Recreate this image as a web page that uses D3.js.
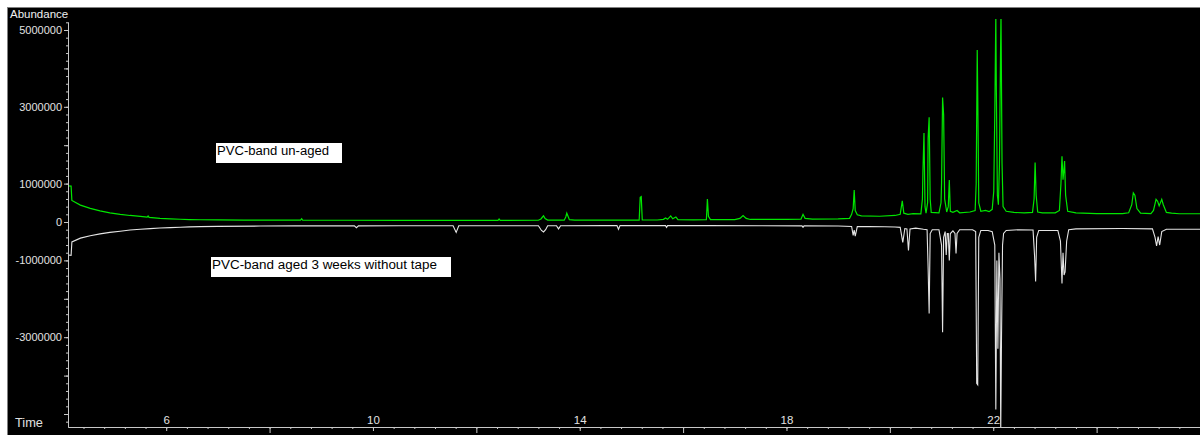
<!DOCTYPE html>
<html><head><meta charset="utf-8">
<script src="https://cdn.jsdelivr.net/npm/d3@7"></script>
<style>html,body{margin:0;padding:0;background:#000;overflow:hidden}</style>
</head><body><svg id="c" width="1200" height="435"></svg>
<script>
// ---- data (time in min, abundance) ----
const unagedTrace = [
[4.10,940000],[4.16,935000],[4.175,560000],[4.34,440000],[4.53,355000],[4.72,290000],[4.91,240000],[5.11,200000],[5.30,170000],[5.50,145000],
[5.63,125000],[5.65,155000],[5.67,120000],[5.88,95000],[6.08,82000],[6.27,72000],[6.45,64000],[6.66,58000],[7.0,54000],[7.5,50000],[8.0,48000],
[8.60,47000],[8.62,85000],[8.64,47000],[9.5,45000],[10.5,44000],[11.5,43000],[12.42,43000],[12.44,80000],[12.46,43000],[13.20,45000],[13.25,80000],
[13.28,130000],[13.30,160000],[13.33,90000],[13.38,50000],[13.70,48000],[13.73,130000],[13.75,230000],[13.77,165000],[13.80,60000],[13.9,48000],
[14.2,48000],[14.6,48000],[15.15,48000],[15.17,640000],[15.19,660000],[15.21,52000],[15.5,52000],[15.62,70000],[15.66,105000],[15.70,70000],
[15.76,160000],[15.80,85000],[15.86,130000],[15.90,60000],[16.2,55000],[16.45,58000],[16.47,600000],[16.49,150000],[16.53,62000],[17.0,62000],
[17.10,95000],[17.16,170000],[17.22,95000],[17.3,66000],[18.0,66000],[18.28,75000],[18.32,200000],[18.36,95000],[18.5,75000],[19.0,80000],
[19.22,95000],[19.26,200000],[19.29,350000],[19.31,830000],[19.33,300000],[19.37,190000],[19.45,160000],[19.8,150000],[20.1,170000],[20.2,200000],
[20.24,550000],[20.27,230000],[20.35,200000],[20.45,220000],[20.60,210000],[20.63,600000],[20.64,1320000],[20.66,2320000],[20.68,400000],[20.70,230000],
[20.73,500000],[20.74,2180000],[20.76,2730000],[20.78,600000],[20.80,250000],[20.95,240000],[20.99,500000],[21.00,1000000],[21.02,3240000],
[21.04,2790000],[21.06,600000],[21.10,260000],[21.13,400000],[21.15,1090000],[21.17,280000],[21.22,250000],[21.30,300000],[21.35,240000],
[21.55,260000],[21.65,300000],[21.67,1000000],[21.69,4480000],[21.70,3340000],[21.72,500000],[21.76,280000],[21.85,300000],[21.92,270000],
[21.98,330000],[22.01,800000],[22.03,2820000],[22.05,5400000],[22.06,3440000],[22.08,700000],[22.10,450000],[22.12,1500000],[22.14,4280000],
[22.15,5400000],[22.17,1530000],[22.19,400000],[22.25,280000],[22.4,250000],[22.6,240000],[22.76,250000],[22.79,600000],[22.81,1550000],
[22.83,700000],[22.86,260000],[22.95,240000],[23.2,240000],[23.28,300000],[23.31,1000000],[23.33,1710000],[23.35,1100000],[23.37,1400000],
[23.38,1590000],[23.40,700000],[23.44,280000],[23.6,240000],[24.0,220000],[24.5,220000],[24.62,240000],[24.68,450000],[24.71,760000],
[24.74,700000],[24.78,350000],[24.85,230000],[25.05,220000],[25.10,300000],[25.15,590000],[25.18,540000],[25.21,420000],[25.26,590000],
[25.29,450000],[25.35,250000],[25.45,230000],[25.6,215000],[26.0,215000]
];
const agedTrace = [
[4.10,-860000],[4.16,-870000],[4.175,-520000],[4.34,-420000],[4.53,-360000],[4.72,-310000],[4.91,-270000],[5.11,-240000],[5.30,-210000],
[5.50,-190000],[5.69,-172000],[5.88,-158000],[6.08,-146000],[6.27,-136000],[6.45,-128000],[6.66,-120000],[7.0,-114000],[7.82,-106000],[8.5,-102000],
[9.64,-100000],[9.68,-150000],[9.72,-100000],[10.5,-98000],[11.55,-98000],[11.61,-270000],[11.66,-98000],[12.5,-96000],[13.20,-96000],
[13.26,-220000],[13.30,-260000],[13.34,-200000],[13.38,-98000],[13.55,-96000],[13.59,-180000],[13.63,-96000],[14.5,-95000],[14.72,-95000],
[14.75,-190000],[14.78,-95000],[15.2,-95000],[15.66,-95000],[15.68,-140000],[15.70,-95000],[16.5,-95000],[17.5,-98000],[18.30,-100000],
[18.32,-140000],[18.34,-100000],[19.0,-105000],[19.26,-115000],[19.29,-350000],[19.31,-210000],[19.33,-370000],[19.37,-120000],[19.6,-120000],
[19.9,-125000],[20.1,-130000],[20.2,-140000],[20.25,-530000],[20.29,-170000],[20.33,-180000],[20.36,-740000],[20.39,-180000],[20.5,-160000],
[20.65,-190000],[20.72,-200000],[20.74,-1200000],[20.76,-2380000],[20.78,-300000],[20.82,-200000],[20.95,-200000],[21.00,-600000],
[21.02,-2870000],[21.04,-400000],[21.07,-250000],[21.09,-860000],[21.11,-300000],[21.13,-300000],[21.15,-1000000],[21.17,-300000],
[21.22,-230000],[21.26,-300000],[21.28,-820000],[21.30,-300000],[21.35,-200000],[21.6,-200000],[21.66,-250000],[21.68,-4200000],
[21.70,-4240000],[21.72,-400000],[21.76,-220000],[21.90,-220000],[21.98,-250000],[22.03,-600000],[22.05,-4880000],[22.07,-1000000],
[22.09,-3300000],[22.11,-800000],[22.13,-1500000],[22.145,-5500000],[22.16,-3000000],[22.18,-600000],[22.20,-300000],[22.25,-220000],
[22.5,-200000],[22.77,-210000],[22.80,-900000],[22.82,-1550000],[22.84,-400000],[22.88,-220000],[23.25,-220000],[23.30,-500000],
[23.33,-1600000],[23.35,-800000],[23.37,-1380000],[23.39,-1300000],[23.42,-500000],[23.46,-200000],[23.6,-180000],[24.5,-170000],
[25.08,-180000],[25.13,-400000],[25.16,-620000],[25.19,-380000],[25.22,-600000],[25.26,-250000],[25.35,-190000],[26.0,-190000]
];
const xLabelTicks = [6, 10, 14, 18, 22];
const yLabelTicks = [5000000, 3000000, 1000000, 0, -1000000, -3000000];
const seriesLabels = ["PVC-band un-aged", "PVC-band aged 3 weeks without tape"];
const yTitle = "Abundance";
const xTitle = "Time";

// ---- layout ----
const W = 1200, H = 435;
const L = 68, R = 1200, T = 22, B = 427;
const FONT = "'Liberation Sans', Arial, sans-serif";
const svg = d3.select("#c");

const x = d3.scaleLinear().domain([4.1, 26.0]).range([L, R]);
const y = d3.scaleLinear().domain([-5338500, 5208300]).range([B, T]);

svg.append("rect").attr("width", W).attr("height", H).attr("fill", "#000");
// window frame
svg.append("rect").attr("x",0).attr("y",0).attr("width",W).attr("height",7).attr("fill","#fff");
svg.append("rect").attr("x",0).attr("y",0).attr("width",7).attr("height",H).attr("fill","#fff");
svg.append("line").attr("x1",7).attr("x2",W).attr("y1",7.5).attr("y2",7.5).attr("stroke","#808080");
svg.append("line").attr("x1",7.5).attr("x2",7.5).attr("y1",7).attr("y2",H).attr("stroke","#808080");

// clip
svg.append("clipPath").attr("id","clip").append("rect")
  .attr("x", L).attr("y", 19).attr("width", R - L).attr("height", B - 19);

const line = d3.line().x(d => x(d[0])).y(d => y(d[1]));
const g = svg.append("g").attr("clip-path", "url(#clip)");
g.append("path").datum(agedTrace).attr("d", line).attr("fill","none")
  .attr("stroke","#e4e4e4").attr("stroke-width",1.1);
g.append("path").datum(unagedTrace).attr("d", line).attr("fill","none")
  .attr("stroke","#00e600").attr("stroke-width",1.2);

const axisColor = "#c8c8c8", textColor = "#e2e2e2";
function styleAxis(sel){
  sel.selectAll("path,line").attr("stroke", axisColor);
  sel.selectAll("text").attr("fill", textColor).attr("font-family", FONT);
}
// y axis
const yMinor = d3.range(-26, 27).map(k => k * 200000);
const yMajor = d3.range(-5, 6).map(k => k * 1000000);
svg.append("g").attr("transform", `translate(${L},0)`)
  .call(d3.axisLeft(y).tickValues(yMinor).tickSize(2).tickSizeOuter(0).tickFormat(""))
  .call(styleAxis);
svg.append("g").attr("transform", `translate(${L},0)`)
  .call(d3.axisLeft(y).tickValues(yMajor).tickSize(4).tickSizeOuter(0).tickPadding(2)
    .tickFormat(d => yLabelTicks.includes(d) ? String(d) : ""))
  .call(styleAxis)
  .call(s => s.selectAll("text").attr("font-size", "11px"));

// x axis
const xMinor = d3.range(11, 66).map(k => +(k * 0.4).toFixed(1));
const xEven = d3.range(3, 13).map(k => k * 2).filter(v => !xLabelTicks.includes(v));
svg.append("g").attr("transform", `translate(0,${B})`)
  .call(d3.axisBottom(x).tickValues(xMinor).tickSize(2).tickSizeOuter(0).tickFormat(""))
  .call(styleAxis);
svg.append("g").attr("transform", `translate(0,${B})`)
  .call(d3.axisBottom(x).tickValues(xLabelTicks).tickSize(4).tickSizeOuter(0).tickFormat(""))
  .call(styleAxis).call(s => s.select(".domain").remove());
svg.append("g").attr("transform", `translate(0,${B})`)
  .call(d3.axisBottom(x).tickValues(xEven).tickSize(6).tickSizeOuter(0).tickFormat(""))
  .call(styleAxis).call(s => s.select(".domain").remove());
svg.append("g").attr("transform", `translate(0,${B})`)
  .call(d3.axisTop(x).tickValues(xLabelTicks).tickSize(0).tickPadding(3).tickFormat(d3.format("d")))
  .call(styleAxis)
  .call(s => { s.select(".domain").remove(); s.selectAll("text").attr("font-size","11.5px"); });

// titles
svg.append("text").attr("x", 10).attr("y", 17.5).text(yTitle)
  .attr("fill", "#f0f0f0").attr("font-family", FONT).attr("font-size", "11.5px");
svg.append("text").attr("x", 15).attr("y", 427).text(xTitle)
  .attr("fill", "#e0e0e0").attr("font-family", FONT).attr("font-size", "12.5px")
  .attr("textLength", 28).attr("lengthAdjust","spacingAndGlyphs");

// series labels
const boxes = [
  {x:216, y:143, w:126, h:20, tx:217, ty:155, tl:112},
  {x:211, y:257, w:240, h:20, tx:212, ty:269, tl:225}
];
seriesLabels.forEach((t, i) => {
  const b = boxes[i];
  svg.append("rect").attr("x", b.x).attr("y", b.y).attr("width", b.w).attr("height", b.h).attr("fill", "#fff");
  svg.append("text").attr("x", b.tx).attr("y", b.ty).text(t)
    .attr("fill", "#000").attr("font-family", FONT).attr("font-size", "12.5px")
    .attr("textLength", b.tl).attr("lengthAdjust", "spacingAndGlyphs");
});
</script>
</body></html>
